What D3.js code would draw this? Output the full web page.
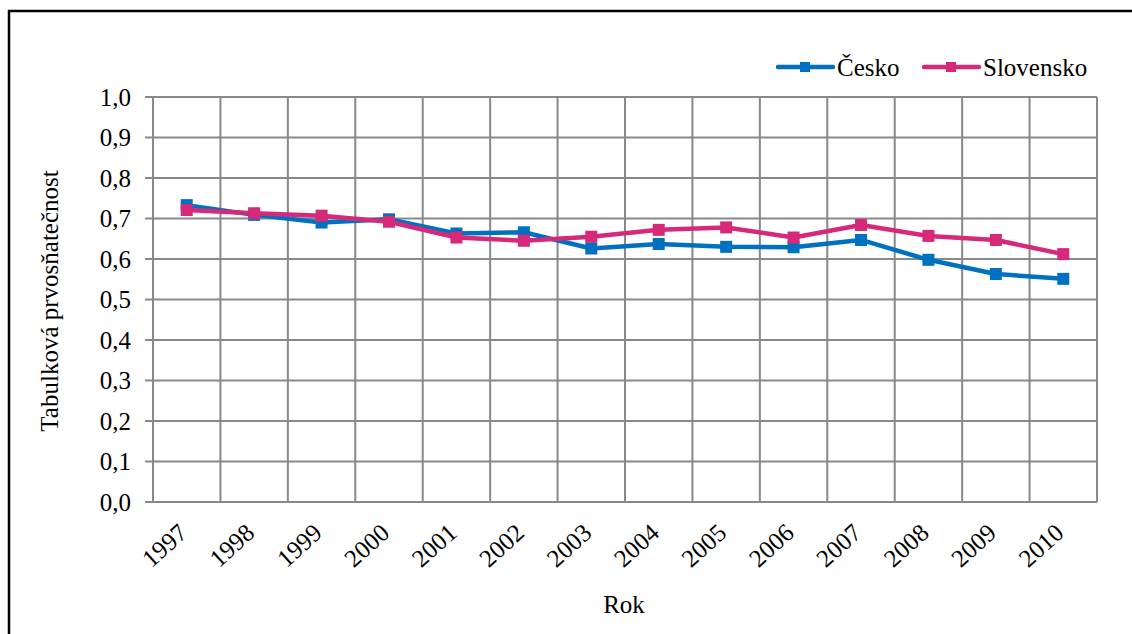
<!DOCTYPE html>
<html lang="cs">
<head>
<meta charset="utf-8">
<title>Tabulková prvosňatečnost</title>
<script src="https://d3js.org/d3.v7.min.js"></script>
<style>
  body { margin: 0; background: #fff; }
</style>
</head>
<body>
<script>
// data
var years = ["1997","1998","1999","2000","2001","2002","2003","2004","2005","2006","2007","2008","2009","2010"];
var cesko = [0.733, 0.709, 0.690, 0.698, 0.663, 0.666, 0.626, 0.637, 0.630, 0.629, 0.647, 0.598, 0.563, 0.551];
var slovensko = [0.721, 0.713, 0.707, 0.692, 0.653, 0.645, 0.655, 0.672, 0.678, 0.653, 0.684, 0.657, 0.647, 0.612];
var yTicks = [0, 0.1, 0.2, 0.3, 0.4, 0.5, 0.6, 0.7, 0.8, 0.9, 1.0];
var seriesNames = ["Česko", "Slovensko"];
var seriesColors = ["#0070C0", "#D6297A"];

var W = 1132, H = 634;
var plotL = 153, plotR = 1097, plotT = 97, plotB = 502;

// every text gets the serif font set on itself
function serif(sel) {
  return sel.style("font-family", "'Liberation Serif', monospace").style("font-size", "25px").attr("fill", "#000");
}

var svg = d3.select("body").append("svg").attr("width", W).attr("height", H);

// outer frame (right and bottom run off the picture)
svg.append("rect").attr("x", 9).attr("y", 11).attr("width", W + 20).attr("height", H + 20)
   .attr("fill", "none").attr("stroke", "#000").attr("stroke-width", 2.5);

var x = d3.scaleBand().domain(years).range([plotL, plotR]).padding(0);
var y = d3.scaleLinear().domain([0, 1]).range([plotB, plotT]);
var fmt = d3.formatLocale({decimal: ",", thousands: " ", grouping: [3], currency: ["", ""]}).format(".1f");

var grid = svg.append("g").attr("stroke", "#898989").attr("stroke-width", 2);
// horizontal gridlines + small ticks to the left
grid.selectAll(".h").data(yTicks).enter().append("line")
    .attr("x1", plotL - 8).attr("x2", plotR)
    .attr("y1", function(d){ return y(d); }).attr("y2", function(d){ return y(d); });
// vertical gridlines at band edges
var edges = years.map(function(d){ return x(d); }).concat([plotR]);
grid.selectAll(".v").data(edges).enter().append("line")
    .attr("x1", function(d){ return d; }).attr("x2", function(d){ return d; })
    .attr("y1", plotT).attr("y2", plotB);

// y tick labels
svg.append("g").selectAll("text").data(yTicks).enter().append("text")
   .call(serif)
   .attr("x", 131).attr("y", function(d){ return y(d); }).attr("dy", "0.34em")
   .attr("text-anchor", "end")
   .text(function(d){ return fmt(d); });

// x tick labels, rotated
svg.append("g").selectAll("text").data(years).enter().append("text")
   .call(serif)
   .attr("text-anchor", "end")
   .attr("transform", function(d){ return "translate(" + (x(d) + x.bandwidth() / 2 + 2) + "," + (plotB + 33) + ") rotate(-42)"; })
   .text(function(d){ return d; });

// axis titles
svg.append("text").call(serif).attr("x", 624).attr("y", 613).attr("text-anchor", "middle").text("Rok");
svg.append("text").call(serif).attr("transform", "translate(58,301) rotate(-90)").attr("text-anchor", "middle")
   .text("Tabulková prvosňatečnost");

// series
var line = d3.line()
  .x(function(d, i){ return x(years[i]) + x.bandwidth() / 2; })
  .y(function(d){ return y(d); });

[cesko, slovensko].forEach(function(vals, k){
  var g = svg.append("g");
  g.append("path").datum(vals).attr("d", line).attr("fill", "none")
   .attr("stroke", seriesColors[k]).attr("stroke-width", 4.5).attr("stroke-linejoin", "round");
  g.selectAll("rect").data(vals).enter().append("rect")
   .attr("x", function(d, i){ return x(years[i]) + x.bandwidth() / 2 - 6; })
   .attr("y", function(d){ return y(d) - 6; })
   .attr("width", 12).attr("height", 12).attr("fill", seriesColors[k]);
});

// legend
var legX = [778, 924];
seriesNames.forEach(function(name, k){
  var lg = svg.append("g").attr("transform", "translate(" + legX[k] + ",67)");
  lg.append("line").attr("x1", 0).attr("x2", 55).attr("y1", 0).attr("y2", 0)
    .attr("stroke", seriesColors[k]).attr("stroke-width", 4.5).attr("stroke-linecap", "round");
  lg.append("rect").attr("x", 22).attr("y", -5).attr("width", 10).attr("height", 10).attr("fill", seriesColors[k]);
  lg.append("text").call(serif).attr("x", 59).attr("y", 9).text(name);
});
</script>
</body>
</html>
